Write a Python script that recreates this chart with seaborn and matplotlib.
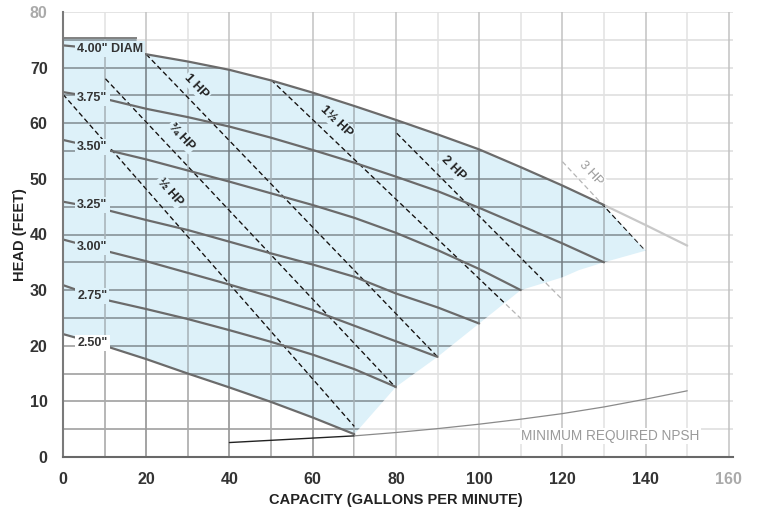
import numpy as np
import matplotlib
matplotlib.use("Agg")
import matplotlib.pyplot as plt
from matplotlib.patches import Polygon
import seaborn as sns

# impeller curves: capacity (gpm) vs head (ft)
cap = [0, 10, 20, 30, 40, 50, 60, 70, 80, 90, 100, 110, 120, 130]
head_400 = [74.0, 73.3, 72.4, 71.1, 69.6, 67.7, 65.5, 63.1, 60.6, 58.0, 55.3, 52.1, 48.8, 45.3]
head_375 = [65.6, 64.4, 62.6, 61.1, 59.4, 57.4, 55.2, 52.9, 50.4, 47.8, 44.8, 41.6, 38.4, 35.0]
head_350 = [57.0, 55.3, 53.5, 51.5, 49.5, 47.4, 45.3, 43.0, 40.3, 37.2, 33.8, 30.0]
head_325 = [45.9, 44.5, 42.6, 40.8, 38.7, 36.6, 34.6, 32.4, 29.4, 26.9, 24.0]
head_300 = [39.1, 37.1, 35.2, 33.1, 31.0, 28.8, 26.4, 23.6, 20.8, 18.0]
head_275 = [30.9, 28.3, 26.6, 24.8, 22.8, 20.7, 18.4, 15.8, 12.6]
head_250 = [22.1, 20.0, 17.6, 15.0, 12.5, 9.9, 7.1, 4.1]

diam_labels = ['4.00" DIAM', '3.75"', '3.50"', '3.25"', '3.00"', '2.75"', '2.50"']
diam_label_head = [73.4, 64.6, 55.7, 45.3, 37.7, 28.9, 20.5]

# 4.00" curve beyond the operating range
ext_cap = [130, 140, 150]
ext_head = [45.3, 41.7, 38.0]

# lower edge of the operating range
edge_cap = [140, 130, 124, 120, 110, 100, 90, 80, 70]
edge_head = [37.1, 35.0, 33.6, 32.3, 30.0, 24.0, 18.0, 12.6, 4.1]

# box behind the 4.00" label
box_cap = [0, 17.7, 17.7]
box_head = [75.3, 75.3, 72.6]

# horsepower lines
hp_labels = ["½ HP", "¾ HP", "1 HP", "1½ HP", "2 HP", "3 HP"]
hp_cap = [[0, 70], [10.2, 80.2], [20, 90], [50, 110], [80.2, 120], [120, 140]]
hp_head = [[65.2, 5.5], [68.0, 12.3], [72.4, 18.0], [67.8, 24.9], [58.2, 28.3], [53.1, 37.1]]
hp_label_cap = [25.7, 28.5, 32.1, 65.7, 93.8, 126.8]
hp_label_head = [47.7, 57.6, 66.6, 60.3, 51.9, 51.0]

# NPSH curve
npsh_cap = [40, 50, 60, 70, 80, 90, 100, 110, 120, 130, 140, 150]
npsh_head = [2.6, 3.0, 3.4, 3.8, 4.4, 5.1, 5.9, 6.8, 7.8, 9.0, 10.4, 11.9]

SHADE = "#ddf1f9"
CURVE = "#6b6b6b"

sns.set_theme(style="white")
plt.rcParams["font.family"] = ["Liberation Sans", "DejaVu Sans"]

fig = plt.figure(figsize=(7.57, 5.12), dpi=100)
ax = fig.add_axes([63 / 757, 1 - 457 / 512, 670 / 757, 445 / 512])
ax.set_xlim(0, 161)
ax.set_ylim(0, 80)


def draw_grid(hcol, vmaj, vmin, z, clip=None):
    arts = []
    for y in range(5, 81, 5):
        arts.append(ax.axhline(y, color=hcol, lw=1.1, zorder=z))
    for x in range(10, 161, 10):
        col = vmaj if x % 20 == 0 else vmin
        arts.append(ax.axvline(x, color=col, lw=1.1, zorder=z))
    if clip is not None:
        for a in arts:
            a.set_clip_path(clip)


# light grid everywhere
draw_grid("#dcdcdc", "#c2c2c2", "#e2e2e2", 1)

# shaded operating range
top_pts = list(zip(box_cap, box_head)) + list(zip(cap, head_400))[2:]
low_pts = list(zip(edge_cap, edge_head))
bot_pts = list(zip(cap[:len(head_250)], head_250))[::-1][1:]
poly_pts = top_pts + low_pts + bot_pts
shade = Polygon(poly_pts, closed=True, fc=SHADE, ec="none", zorder=2)
ax.add_patch(shade)

clip_shade = Polygon(poly_pts, closed=True, transform=ax.transData)
ll_pts = [(0, 0)] + list(zip(cap[:len(head_250)], head_250)) + [(70, 0)]
clip_ll = Polygon(ll_pts, closed=True, transform=ax.transData)

draw_grid("#808a90", "#737c81", "#a6b1b6", 3, clip_shade)
draw_grid("#a0a0a0", "#999999", "#aaaaaa", 3, clip_ll)

# horsepower lines: grey everywhere, black inside the operating range
for xs, ys in zip(hp_cap, hp_head):
    sns.lineplot(x=xs, y=ys, ax=ax, color="#b5b5b5", lw=0.9, zorder=4)
    ax.lines[-1].set_linestyle((0, (4, 2.5)))
    sns.lineplot(x=xs, y=ys, ax=ax, color="#111111", lw=0.9, zorder=5)
    ax.lines[-1].set_linestyle((0, (4, 2.5)))
    ax.lines[-1].set_clip_path(clip_shade)

# impeller curves
for hs in [head_400, head_375, head_350, head_325, head_300, head_275, head_250]:
    sns.lineplot(x=cap[:len(hs)], y=hs, ax=ax, color=CURVE, lw=1.6, zorder=5)
sns.lineplot(x=ext_cap, y=ext_head, ax=ax, color="#c8c8c8", lw=1.6, zorder=4)

# npsh
sns.lineplot(x=npsh_cap[:4], y=npsh_head[:4], ax=ax, color="#222222", lw=1.0, zorder=5)
sns.lineplot(x=npsh_cap[3:], y=npsh_head[3:], ax=ax, color="#8a8a8a", lw=0.9, zorder=5)
ax.text(131.6, 3.8, "MINIMUM REQUIRED NPSH", ha="center", va="center", fontsize=9.8,
        color="#9a9a9a", zorder=6, bbox=dict(fc="white", ec="none", pad=1.0))

# diameter labels
ax.hlines(box_head[0], box_cap[0], box_cap[1], color="#777777", lw=1.3, zorder=6)
for lab, hy in zip(diam_labels, diam_label_head):
    bg = "white" if lab == '2.50"' else SHADE
    ax.text(3.4, hy, lab, ha="left", va="center", fontsize=9, fontweight="bold",
            color="#333333", zorder=6, bbox=dict(fc=bg, ec="none", pad=1.5))

# hp labels, rotated along their lines
for lab, xs, ys, lx, ly in zip(hp_labels, hp_cap, hp_head, hp_label_cap, hp_label_head):
    p0 = ax.transData.transform((xs[0], ys[0]))
    p1 = ax.transData.transform((xs[1], ys[1]))
    ang = np.degrees(np.arctan2(p1[1] - p0[1], p1[0] - p0[0]))
    grey = lab == "3 HP"
    ax.text(lx, ly, lab, ha="center", va="center", rotation=ang, rotation_mode="anchor",
            fontsize=9.3, fontweight="normal" if grey else "bold",
            color="#9a9a9a" if grey else "#222222", zorder=6,
            bbox=dict(fc="white" if grey else SHADE, ec="none", pad=1.0))

# axes
for s in ["top", "right"]:
    ax.spines[s].set_visible(False)
ax.spines["left"].set_color("#7a7a7a")
ax.spines["left"].set_linewidth(1.5)
ax.spines["bottom"].set_color("#686868")
ax.spines["bottom"].set_linewidth(1.5)
for s in ["left", "bottom"]:
    ax.spines[s].set_zorder(7)

ax.set_xticks(range(0, 161, 20))
ax.set_yticks(range(0, 81, 10))
ax.tick_params(axis="y", length=5, width=1, color="#999999", pad=6, labelsize=11.5, labelcolor="#333333")
ax.tick_params(axis="x", length=3, width=1, color="#999999", pad=8, labelsize=11.5, labelcolor="#333333")
for t in ax.get_xticklabels() + ax.get_yticklabels():
    t.set_fontweight("bold")
ax.get_xticklabels()[-1].set_color("#aaaaaa")
ax.get_yticklabels()[-1].set_color("#aaaaaa")

ax.set_xlabel("CAPACITY (GALLONS PER MINUTE)", fontsize=10.5, fontweight="bold", color="#222222")
ax.set_ylabel("HEAD (FEET)", fontsize=10.5, fontweight="bold", color="#222222")
ax.xaxis.set_label_coords(0.5 * 160 / 161, -0.081)
ax.yaxis.set_label_coords(-0.053, 0.5)

fig.savefig("out.png", dpi=100)
